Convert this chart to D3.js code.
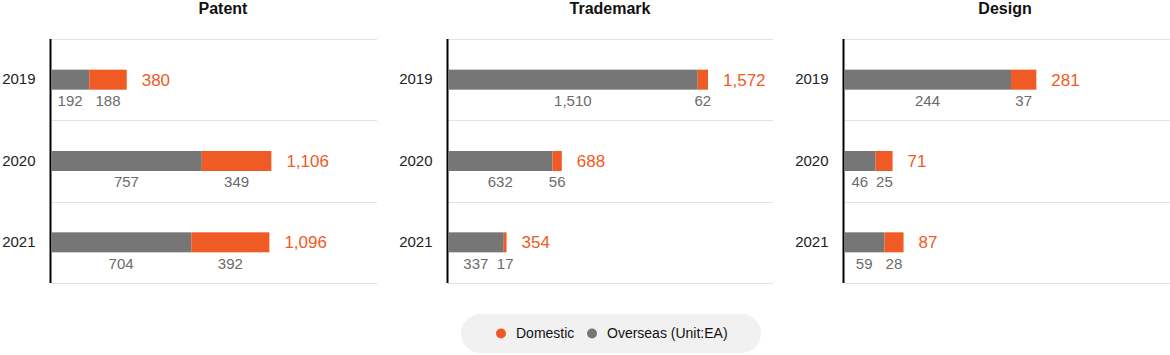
<!DOCTYPE html>
<html>
<head>
<meta charset="utf-8">
<script src="https://cdn.jsdelivr.net/npm/d3@7"></script>
<style>
  html, body { margin: 0; padding: 0; background: #fff; }
  svg { display: block; font-family: "Liberation Sans", Arial, sans-serif; }
</style>
</head>
<body>
<svg id="chart" width="1170" height="355"></svg>
<script>
// ---- data ----
const panels = ["Patent", "Trademark", "Design"];
const years = ["2019", "2020", "2021"];
const overseasPatent = [192, 757, 704];
const domesticPatent = [188, 349, 392];
const overseasTrademark = [1510, 632, 337];
const domesticTrademark = [62, 56, 17];
const overseasDesign = [244, 46, 59];
const domesticDesign = [37, 25, 28];
const legendLabels = ["Domestic", "Overseas (Unit:EA)"];

const overseas = [overseasPatent, overseasTrademark, overseasDesign];
const domestic = [domesticPatent, domesticTrademark, domesticDesign];

// ---- layout ----
const panelLeft = [50, 447, 843];
const panelRight = [377, 773, 1170];
const titleX = [223, 610, 1005];
const maxFrac = [0.676, 0.80, 0.59]; // fraction of panel width used by the longest bar
const plotTop = 39, plotBottom = 283;
const GRAY = "#767676", ORANGE = "#f05a24";
const fmt = d3.format(",");

const svg = d3.select("#chart");

panels.forEach((name, pi) => {
  const g = svg.append("g");
  const x0 = panelLeft[pi], x1 = panelRight[pi];
  const totals = overseas[pi].map((v, i) => v + domestic[pi][i]);
  const maxT = d3.max(totals);
  const x = d3.scaleLinear()
    .domain([0, maxT / maxFrac[pi]])
    .range([x0 + 1, x1]);
  const y = d3.scaleBand().domain(years).range([plotTop, plotBottom]).padding(0);
  const barH = 20;

  // title
  g.append("text")
    .attr("x", titleX[pi]).attr("y", 14)
    .attr("text-anchor", "middle")
    .attr("font-size", 16).attr("font-weight", "bold")
    .attr("fill", "#111")
    .text(name);

  // gridlines at band boundaries
  const bounds = years.map(d => y(d)).concat([y(years[years.length - 1]) + y.bandwidth()]);
  g.selectAll("line.grid").data(bounds).enter().append("line")
    .attr("class", "grid")
    .attr("x1", x0 + 1).attr("x2", x1)
    .attr("y1", d => Math.round(d) + 0.5).attr("y2", d => Math.round(d) + 0.5)
    .attr("stroke", "#e3e3e3").attr("stroke-width", 1);

  // y axis
  const yAxis = d3.axisLeft(y).tickSize(0).tickPadding(15);
  const ag = g.append("g").attr("transform", `translate(${x0 + 0.5},0)`).call(yAxis);
  ag.select(".domain").attr("stroke", "#000").attr("stroke-width", 2).attr("d", `M0,${plotTop}V${plotBottom}`);
  ag.selectAll("text").attr("font-size", 15).attr("fill", "#222")
    .attr("font-family", "Liberation Sans, Arial, sans-serif");

  years.forEach((yr, i) => {
    const cy = y(yr) + y.bandwidth() / 2;
    const o = overseas[pi][i], d = domestic[pi][i], t = totals[i];
    g.append("rect")
      .attr("x", x(0)).attr("y", cy - barH / 2)
      .attr("width", x(o) - x(0)).attr("height", barH)
      .attr("fill", GRAY);
    g.append("rect")
      .attr("x", x(o)).attr("y", cy - barH / 2)
      .attr("width", x(t) - x(o)).attr("height", barH)
      .attr("fill", ORANGE);
    g.append("text")
      .attr("x", x(t) + 15).attr("y", cy)
      .attr("dy", "0.35em")
      .attr("font-size", 17).attr("fill", ORANGE)
      .text(fmt(t));
    const l1 = g.append("text")
      .attr("x", (x(0) + x(o)) / 2).attr("y", cy + 21)
      .attr("dy", "0.35em").attr("text-anchor", "middle")
      .attr("font-size", 15).attr("fill", "#6b6b6b")
      .text(fmt(o));
    const l2 = g.append("text")
      .attr("x", (x(o) + x(t)) / 2).attr("y", cy + 21)
      .attr("dy", "0.35em").attr("text-anchor", "middle")
      .attr("font-size", 15).attr("fill", "#6b6b6b")
      .text(fmt(d));
    const w1 = l1.node().getComputedTextLength();
    const w2 = l2.node().getComputedTextLength();
    let c1 = +l1.attr("x"), c2 = +l2.attr("x");
    const need = (w1 + w2) / 2 + 8;
    if (c2 - c1 < need) {
      c1 = Math.max(x(0) + w1 / 2, c1);
      c2 = Math.max(c2, c1 + need);
      l1.attr("x", c1); l2.attr("x", c2);
    }
  });
});

// legend
const lg = svg.append("g");
lg.append("rect")
  .attr("x", 461).attr("y", 314).attr("width", 300).attr("height", 39)
  .attr("rx", 19.5).attr("fill", "#f1f1f1");
const lColors = [ORANGE, GRAY];
const lx = [501, 592];
legendLabels.forEach((lab, i) => {
  lg.append("circle").attr("cx", lx[i]).attr("cy", 333.5).attr("r", 5).attr("fill", lColors[i]);
  lg.append("text").attr("x", lx[i] + 15).attr("y", 333.5).attr("dy", "0.35em")
    .attr("font-size", 14).attr("fill", "#111").text(lab);
});
</script>
</body>
</html>
